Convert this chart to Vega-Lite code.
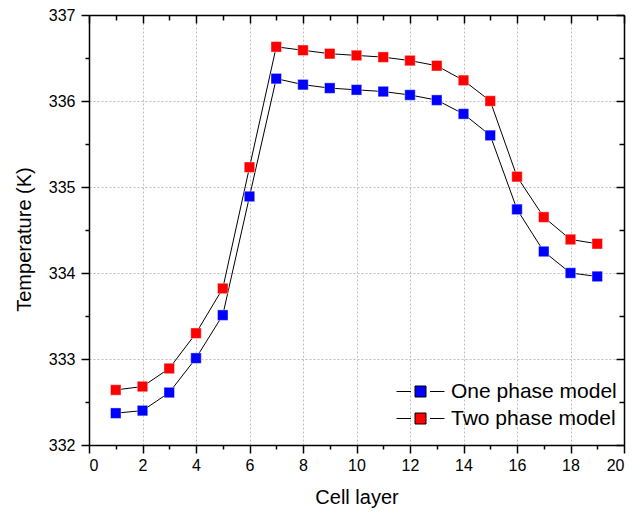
{
  "$schema": "https://vega.github.io/schema/vega-lite/v6.json",
  "width": 535,
  "height": 430,
  "autosize": {"type": "none"},
  "padding": {"left": 89, "top": 15, "right": 11, "bottom": 68},
  "background": "white",
  "config": {
    "view": {"stroke": null},
    "font": "Liberation Sans",
    "axis": {
      "domainColor": "black",
      "domainWidth": 1.5,
      "tickColor": "black",
      "tickWidth": 1.5,
      "labelFont": "Liberation Sans",
      "labelFontSize": 16,
      "labelColor": "black",
      "titleFont": "Liberation Sans",
      "titleFontSize": 20,
      "titleFontWeight": "normal",
      "titleColor": "black",
      "gridColor": "#bdbdbd",
      "gridDash": [2, 2],
      "gridWidth": 1
    },
    "legend": {
      "labelFont": "Liberation Sans",
      "labelFontSize": 21,
      "labelColor": "black",
      "labelLimit": 400
    }
  },
  "data": {
    "values": [
      {"layer": 1, "T": 332.37, "series": "One phase model"},
      {"layer": 2, "T": 332.40, "series": "One phase model"},
      {"layer": 3, "T": 332.61, "series": "One phase model"},
      {"layer": 4, "T": 333.01, "series": "One phase model"},
      {"layer": 5, "T": 333.51, "series": "One phase model"},
      {"layer": 6, "T": 334.89, "series": "One phase model"},
      {"layer": 7, "T": 336.26, "series": "One phase model"},
      {"layer": 8, "T": 336.19, "series": "One phase model"},
      {"layer": 9, "T": 336.15, "series": "One phase model"},
      {"layer": 10, "T": 336.13, "series": "One phase model"},
      {"layer": 11, "T": 336.11, "series": "One phase model"},
      {"layer": 12, "T": 336.07, "series": "One phase model"},
      {"layer": 13, "T": 336.01, "series": "One phase model"},
      {"layer": 14, "T": 335.85, "series": "One phase model"},
      {"layer": 15, "T": 335.60, "series": "One phase model"},
      {"layer": 16, "T": 334.74, "series": "One phase model"},
      {"layer": 17, "T": 334.25, "series": "One phase model"},
      {"layer": 18, "T": 334.00, "series": "One phase model"},
      {"layer": 19, "T": 333.96, "series": "One phase model"},
      {"layer": 1, "T": 332.64, "series": "Two phase model"},
      {"layer": 2, "T": 332.68, "series": "Two phase model"},
      {"layer": 3, "T": 332.89, "series": "Two phase model"},
      {"layer": 4, "T": 333.30, "series": "Two phase model"},
      {"layer": 5, "T": 333.82, "series": "Two phase model"},
      {"layer": 6, "T": 335.23, "series": "Two phase model"},
      {"layer": 7, "T": 336.63, "series": "Two phase model"},
      {"layer": 8, "T": 336.59, "series": "Two phase model"},
      {"layer": 9, "T": 336.55, "series": "Two phase model"},
      {"layer": 10, "T": 336.53, "series": "Two phase model"},
      {"layer": 11, "T": 336.51, "series": "Two phase model"},
      {"layer": 12, "T": 336.47, "series": "Two phase model"},
      {"layer": 13, "T": 336.41, "series": "Two phase model"},
      {"layer": 14, "T": 336.24, "series": "Two phase model"},
      {"layer": 15, "T": 336.00, "series": "Two phase model"},
      {"layer": 16, "T": 335.12, "series": "Two phase model"},
      {"layer": 17, "T": 334.65, "series": "Two phase model"},
      {"layer": 18, "T": 334.39, "series": "Two phase model"},
      {"layer": 19, "T": 334.34, "series": "Two phase model"}
    ]
  },
  "resolve": {"axis": {"x": "independent", "y": "independent"}},
  "layer": [
    {
      "mark": {"type": "line", "color": "black", "strokeWidth": 1},
      "encoding": {
        "x": {
          "field": "layer", "type": "quantitative",
          "scale": {"domain": [0, 20], "nice": false},
          "axis": {
            "orient": "bottom",
            "title": "Cell layer",
            "values": [0,1,2,3,4,5,6,7,8,9,10,11,12,13,14,15,16,17,18,19,20],
            "labelExpr": "datum.value % 2 == 0 ? datum.label : ''",
            "tickSize": {"condition": {"test": "datum.value % 2 == 0", "value": 8}, "value": 4},
            "gridOpacity": {"condition": {"test": "datum.value % 2 == 0 && datum.value > 0 && datum.value < 20", "value": 1}, "value": 0},
            "grid": true,
            "labelPadding": 4,
            "titlePadding": 14
          }
        },
        "y": {
          "field": "T", "type": "quantitative",
          "scale": {"domain": [332, 337], "nice": false, "zero": false},
          "axis": {
            "orient": "left",
            "title": "Temperature (K)",
            "values": [332, 332.5, 333, 333.5, 334, 334.5, 335, 335.5, 336, 336.5, 337],
            "labelExpr": "datum.value % 1 == 0 ? format(datum.value, 'd') : ''",
            "tickSize": {"condition": {"test": "datum.value % 1 == 0", "value": 8}, "value": 4},
            "gridOpacity": {"condition": {"test": "datum.value % 1 == 0 && datum.value > 332 && datum.value < 337", "value": 1}, "value": 0},
            "grid": true,
            "labelPadding": 6,
            "titlePadding": 14,
            "titleY": 224
          }
        },
        "detail": {"field": "series"}
      }
    },
    {
      "mark": {"type": "point", "shape": "square", "filled": true, "size": 110, "opacity": 1, "stroke": "white", "strokeOpacity": 0.4, "strokeWidth": 1},
      "encoding": {
        "x": {
          "field": "layer", "type": "quantitative",
          "axis": {
            "orient": "top",
            "title": null,
            "labels": false,
            "grid": false,
            "values": [0,1,2,3,4,5,6,7,8,9,10,11,12,13,14,15,16,17,18,19,20],
            "tickSize": {"condition": {"test": "datum.value % 2 == 0", "value": -8}, "value": -5}
          }
        },
        "y": {
          "field": "T", "type": "quantitative",
          "axis": {
            "orient": "right",
            "title": null,
            "labels": false,
            "grid": false,
            "values": [332, 332.5, 333, 333.5, 334, 334.5, 335, 335.5, 336, 336.5, 337],
            "tickSize": {"condition": {"test": "datum.value % 1 == 0", "value": -8}, "value": -5}
          }
        },
        "color": {
          "field": "series", "type": "nominal",
          "scale": {"domain": ["One phase model", "Two phase model"], "range": ["#0000ff", "#ff0000"]},
          "legend": {
            "title": null,
            "orient": "none",
            "legendX": 321,
            "legendY": 366,
            "padding": 0,
            "symbolType": "M-4.36,0H-1.73M-1,-1H1V1H-1ZM1.73,0H4.36",
            "symbolSize": 121,
            "symbolStrokeColor": "black",
            "symbolStrokeWidth": 1,
            "symbolOpacity": 1,
            "labelOffset": 20,
            "labelLimit": 400,
            "rowPadding": 5
          }
        }
      }
    }
  ]
}
